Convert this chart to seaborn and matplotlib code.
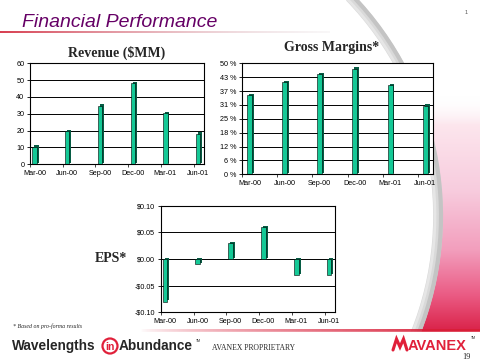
import numpy as np
import matplotlib
matplotlib.use("Agg")
import matplotlib.pyplot as plt
import matplotlib.patheffects as pe
from matplotlib.patches import Arc, Polygon, Circle
import seaborn as sns

# ---------------- data ----------------
quarters = ["Mar-00", "Jun-00", "Sep-00", "Dec-00", "Mar-01", "Jun-01"]
revenue = [10.5, 19.5, 34.8, 48.0, 30.2, 18.2]
gross_margin = [35.7, 41.4, 45.0, 47.6, 40.2, 30.9]
eps = [-0.08, -0.01, 0.03, 0.06, -0.03, -0.03]

rev_ticks = [0, 10, 20, 30, 40, 50, 60]
rev_tick_labels = ["0", "10", "20", "30", "40", "50", "60"]
gm_ticks = [0, 6.25, 12.5, 18.75, 25, 31.25, 37.5, 43.75, 50]
gm_tick_labels = ["0 %", "6 %", "12 %", "18 %", "25 %", "31 %", "37 %", "43 %", "50 %"]
eps_ticks = [-0.10, -0.05, 0.0, 0.05, 0.10]
eps_tick_labels = ["-$0.10", "-$0.05", "$0.00", "$0.05", "$0.10"]

# ---------------- style ----------------
sns.set_theme(style="white")
plt.rcParams["font.family"] = ["Liberation Sans", "DejaVu Sans"]
plt.rcParams["text.parse_math"] = False

BAR = "#14c996"
SIDE = "#075c44"

fig = plt.figure(figsize=(4.8, 3.6), dpi=100)
fig.patch.set_facecolor("white")

# background decoration axes in pixel coordinates
bg = fig.add_axes([0, 0, 1, 1], zorder=-5)
bg.set_xlim(0, 480)
bg.set_ylim(360, 0)
bg.axis("off")

# pink/red swirl region to the right of a large arc
h, k, r = 123.0, 216.0, 315.0
ys = np.linspace(95, 334, 120)
xs = h + np.sqrt(np.clip(r**2 - (ys - k) ** 2, 0, None))
poly_pts = np.vstack([np.column_stack([xs, ys]), [[480, 334], [480, 95]]])
clip = Polygon(poly_pts, closed=True, facecolor="none", edgecolor="none",
               transform=bg.transData)
bg.add_patch(clip)
stops_y = np.array([95, 125, 190, 250, 295, 334])
stops_c = np.array([
    [1.00, 1.00, 1.00, 0.0],
    [0.99, 0.90, 0.93, 1.0],
    [0.97, 0.80, 0.87, 1.0],
    [0.95, 0.62, 0.74, 1.0],
    [0.92, 0.36, 0.52, 1.0],
    [0.85, 0.12, 0.27, 1.0],
])
grad_y = np.linspace(95, 334, 200)
grad = np.zeros((200, 2, 4))
for c in range(4):
    grad[:, :, c] = np.interp(grad_y, stops_y, stops_c[:, c])[:, None]
im = bg.imshow(grad, extent=[330, 480, 334, 95], origin="upper",
               aspect="auto", interpolation="bilinear", zorder=1)
im.set_clip_path(clip)

# grey arc band
for dr, lw, col in [(0, 7, "#d9d9d9"), (3, 3, "#c4c4c4"), (-3, 2, "#e6e6e6")]:
    bg.add_patch(Arc((h, k), 2 * (r + dr), 2 * (r + dr), theta1=-44, theta2=24,
                     lw=lw, color=col, zorder=2))

# title underline gradient
line = np.zeros((1, 200, 4))
t = np.linspace(0, 1, 200)
line[0, :, 0] = 0.85
line[0, :, 1] = 0.25 + 0.55 * t
line[0, :, 2] = 0.32 + 0.50 * t
line[0, :, 3] = 1 - 0.85 * t
bg.imshow(line, extent=[0, 330, 33, 31], aspect="auto", zorder=3)

# footer red line gradient
fl = np.zeros((1, 200, 4))
fl[0, :, 0] = 0.85
fl[0, :, 1] = 0.12
fl[0, :, 2] = 0.22
fl[0, :, 3] = np.linspace(0, 1, 200) ** 0.7
bg.imshow(fl, extent=[140, 480, 332, 329], aspect="auto", zorder=3)
bg.add_patch(matplotlib.patches.Rectangle((0, 332), 480, 28, color="white", zorder=4))

# texts
bg.text(22, 27, "Financial Performance", fontsize=14, style="italic",
        color="#660066", ha="left", va="baseline", zorder=6)
bg.text(466, 14, "1", fontsize=4, color="#555555", ha="center", zorder=6)
bg.text(13, 328, "* Based on pro-forma results", fontsize=4.2, style="italic",
        family=["Liberation Serif"], ha="left", va="baseline", zorder=6)
bg.text(12, 350, "Wavelengths", fontsize=9.8, weight="bold", ha="left",
        va="baseline", zorder=6)
bg.add_patch(Circle((110, 346), 7.5, fill=False, ec="#e0203a", lw=1.6, zorder=6))
bg.text(110, 349.5, "in", fontsize=7.5, weight="bold", color="#e0203a",
        ha="center", va="baseline", zorder=6)
bg.text(119, 350, "Abundance", fontsize=9.8, weight="bold", ha="left",
        va="baseline", zorder=6)
bg.text(196, 342, "TM", fontsize=2.5, ha="left", va="baseline", zorder=6)
bg.text(212, 350, "AVANEX PROPRIETARY", fontsize=5.5, family=["Liberation Serif"],
        ha="left", va="baseline", zorder=6)
bg.plot([393, 396.5, 400, 403.5, 407], [350, 339, 347, 339, 350], color="#e0203a",
        lw=2.2, solid_joinstyle="miter", zorder=6)
bg.text(408, 350, "AVANEX", fontsize=10.5, weight="bold", color="#e0203a",
        ha="left", va="baseline", zorder=6)
bg.text(471, 339, "TM", fontsize=2.5, ha="left", va="baseline", zorder=6)
bg.text(466, 359, "19", fontsize=6, family=["Liberation Serif"], ha="center",
        va="baseline", zorder=6)


def px_axes(x0, x1, y_top, y_bot):
    return fig.add_axes([x0 / 480, 1 - y_bot / 360, (x1 - x0) / 480,
                         (y_bot - y_top) / 360])


def finish(ax, ticks, labels, ylim, xlim):
    for p in ax.patches:
        p.set_path_effects([
            pe.SimplePatchShadow(offset=(1.4, 0.9), shadow_rgbFace=SIDE, alpha=1.0),
            pe.Normal(),
        ])
    ax.set_facecolor("white")
    ax.set_xlim(*xlim)
    ax.set_ylim(*ylim)
    ax.set_yticks(ticks)
    ax.set_yticklabels(labels)
    ax.yaxis.grid(True, color="black", lw=0.7)
    ax.xaxis.grid(False)
    ax.set_axisbelow(True)
    for s in ax.spines.values():
        s.set_visible(True)
        s.set_color("black")
        s.set_linewidth(0.8)
    ax.set_xlabel("")
    ax.set_ylabel("")
    ax.set_xticks(range(len(quarters)))
    ax.set_xticklabels(quarters)
    ax.set_xticks([i + xlim[0] for i in range(len(quarters))], minor=True)
    ax.tick_params(axis="y", which="major", left=True, length=2, width=0.6,
                   pad=2, labelsize=5.2, colors="black")
    ax.tick_params(axis="x", which="major", bottom=False, length=0, pad=4,
                   labelsize=5.2, colors="black")
    ax.tick_params(axis="x", which="minor", bottom=True, length=2, width=0.6)


# Revenue
ax1 = px_axes(30, 204, 63.3, 164.3)
sns.barplot(x=quarters, y=revenue, ax=ax1, color=BAR, width=0.13,
            saturation=1, edgecolor="black", linewidth=0.4)
finish(ax1, rev_ticks, rev_tick_labels, (0, 60), (-0.14, 5.18))
bg.text(117, 53, "Revenue ($MM)", fontsize=10, weight="bold",
        family=["Liberation Serif"], ha="center", va="center", zorder=6)

# Gross margins
ax2 = px_axes(242, 433, 63.3, 174.3)
sns.barplot(x=quarters, y=gross_margin, ax=ax2, color=BAR, width=0.14,
            saturation=1, edgecolor="black", linewidth=0.4)
finish(ax2, gm_ticks, gm_tick_labels, (0, 50), (-0.21, 5.22))
bg.text(332, 48, "Gross Margins*", fontsize=10, weight="bold",
        family=["Liberation Serif"], ha="center", va="center", zorder=6)

# EPS
ax3 = px_axes(160.7, 335, 205.7, 312.3)
sns.barplot(x=quarters, y=eps, ax=ax3, color=BAR, width=0.14,
            saturation=1, edgecolor="black", linewidth=0.4)
finish(ax3, eps_ticks, eps_tick_labels, (-0.10, 0.10), (-0.13, 5.18))
bg.text(127, 259, "EPS*", fontsize=10, weight="bold",
        family=["Liberation Serif"], ha="right", va="center", zorder=6)

fig.savefig("out.png", dpi=100, facecolor="white")
